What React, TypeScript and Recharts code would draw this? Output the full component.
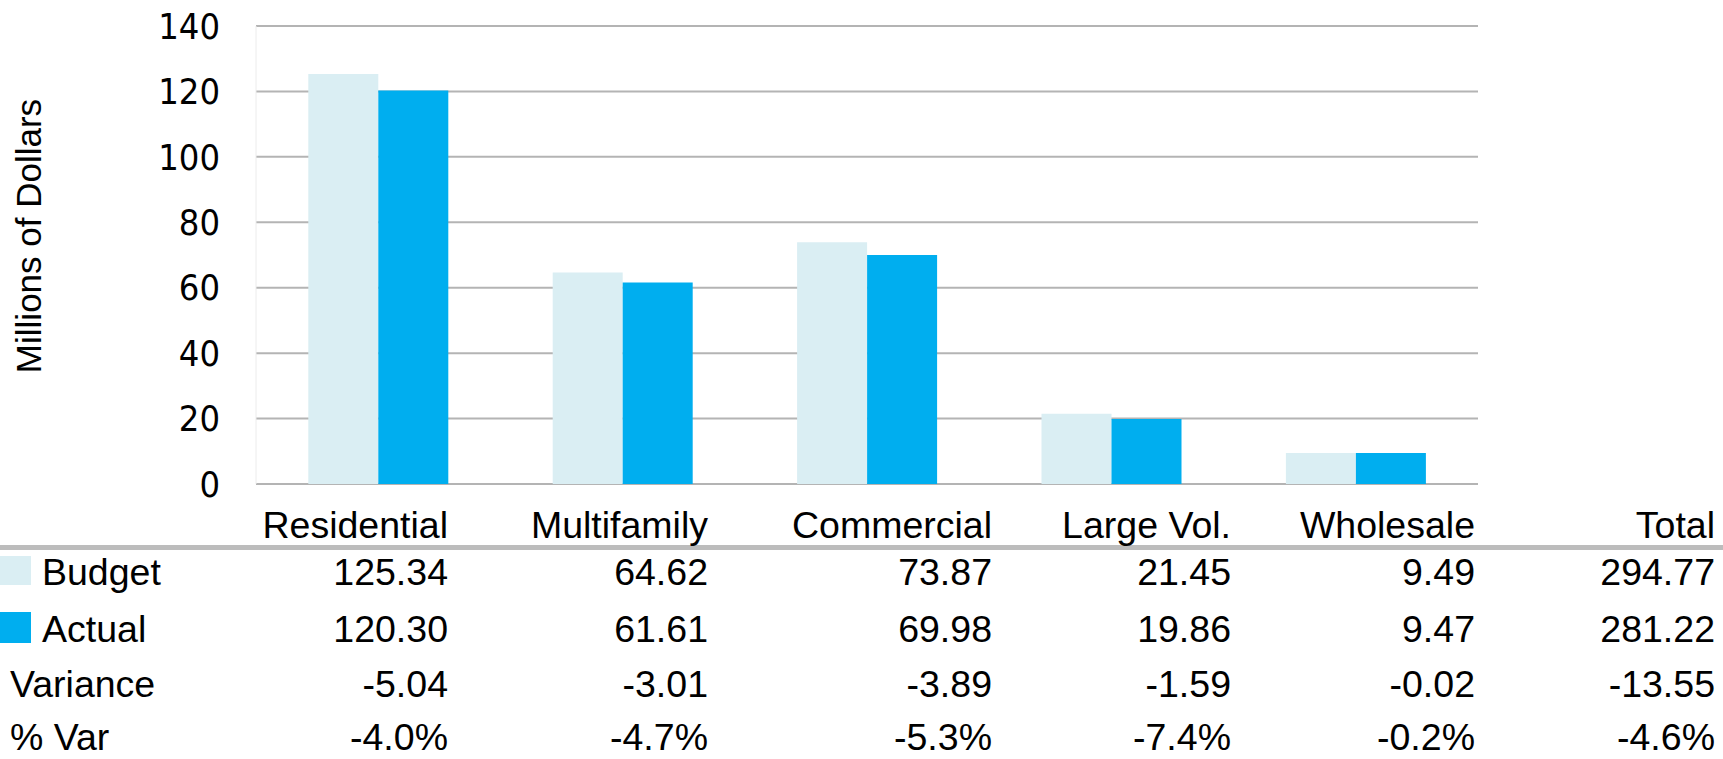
import { Bar, BarChart, CartesianGrid, XAxis, YAxis } from "recharts";

const categories = ["Residential", "Multifamily", "Commercial", "Large Vol.", "Wholesale"];
const budget = [125.34, 64.62, 73.87, 21.45, 9.49];
const actual = [120.3, 61.61, 69.98, 19.86, 9.47];
const variance = [-5.04, -3.01, -3.89, -1.59, -0.02];
const pctVar = [-4.0, -4.7, -5.3, -7.4, -0.2];
const totals = { budget: 294.77, actual: 281.22, variance: -13.55, pctVar: -4.6 };
const yTicks = [0, 20, 40, 60, 80, 100, 120, 140];

const W = 1723;
const H = 759;
const BUDGET_COLOR = "#daeef3";
const ACTUAL_COLOR = "#00aeef";
const ARIAL = "'Liberation Sans', Arial, sans-serif";

// right edges of the data table columns (5 categories + total)
const colRight = [448, 708, 992, 1231, 1475, 1715];
const rowBase = { header: 538, budget: 585, actual: 642, variance: 697, pct: 750 };

const data = categories.map((name, i) => ({
  name,
  Budget: budget[i],
  Actual: actual[i],
}));

function DataTable() {
  const rows: { key: keyof typeof rowBase; cells: string[] }[] = [
    { key: "header", cells: [...categories, "Total"] },
    { key: "budget", cells: [...budget.map((v) => v.toFixed(2)), totals.budget.toFixed(2)] },
    { key: "actual", cells: [...actual.map((v) => v.toFixed(2)), totals.actual.toFixed(2)] },
    { key: "variance", cells: [...variance.map((v) => v.toFixed(2)), totals.variance.toFixed(2)] },
    { key: "pct", cells: [...pctVar.map((v) => `${v.toFixed(1)}%`), `${totals.pctVar.toFixed(1)}%`] },
  ];
  return (
    <svg
      width={W}
      height={H}
      style={{ position: "absolute", left: 0, top: 0, pointerEvents: "none" }}
      fontFamily={ARIAL}
      fontSize={37.5}
    >
      <text
        transform="translate(41,236) rotate(-90)"
        textAnchor="middle"
        fontSize={35}
        fill="#000"
      >
        Millions of Dollars
      </text>
      <rect x={0} y={545} width={W} height={5} fill="#bcbcbc" />
      <rect x={0} y={556} width={31} height={29} fill={BUDGET_COLOR} />
      <rect x={0} y={612} width={31} height={31} fill={ACTUAL_COLOR} />
      <text x={42} y={rowBase.budget} fill="#000">Budget</text>
      <text x={42} y={rowBase.actual} fill="#000">Actual</text>
      <text x={10} y={rowBase.variance} fill="#000">Variance</text>
      <text x={10} y={rowBase.pct} fill="#000">% Var</text>
      {rows.map((r) =>
        r.cells.map((c, i) => (
          <text key={`${r.key}-${i}`} x={colRight[i]} y={rowBase[r.key]} textAnchor="end" fill="#000">
            {c}
          </text>
        ))
      )}
    </svg>
  );
}

export default function App() {
  return (
    <div style={{ position: "relative", width: W, height: H, background: "#fff" }}>
      <style>{"body{margin:0}"}</style>
      <BarChart
        width={W}
        height={H}
        data={data}
        margin={{ top: 26, right: 245, bottom: 275, left: 0 }}
        barCategoryGap="21.4%"
        barGap={0}
      >
        <CartesianGrid vertical={false} stroke="#b4b4b4" strokeWidth={2} />
        <XAxis dataKey="name" hide />
        <YAxis
          width={256}
          domain={[0, 140]}
          ticks={yTicks}
          interval={0}
          tickLine={false}
          tickSize={0}
          tickMargin={36}
          axisLine={{ stroke: "#ececec" }}
          tick={{
            fontSize: 36,
            fill: "#000",
            fontFamily: "'DejaVu Sans Condensed', 'DejaVu Sans', Verdana, sans-serif",
            fontStretch: "condensed",
          }}
        />
        <Bar dataKey="Budget" fill={BUDGET_COLOR} isAnimationActive={false} />
        <Bar dataKey="Actual" fill={ACTUAL_COLOR} isAnimationActive={false} />
      </BarChart>
      <DataTable />
    </div>
  );
}
